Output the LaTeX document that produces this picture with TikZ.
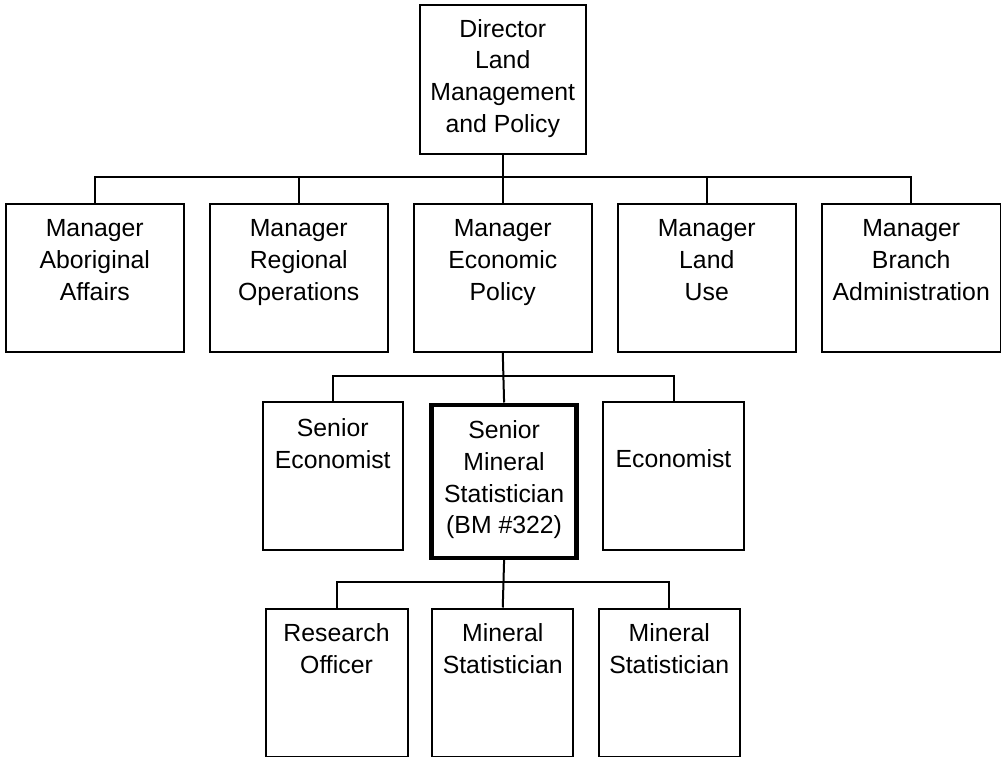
\documentclass[tikz,border=0pt]{standalone}
\usepackage{fontspec}
\setmainfont{Liberation Sans}
\tikzset{
  box/.style={draw, line width=2pt, inner sep=0pt, anchor=north west},
  bossbox/.style={draw, line width=4.7pt, inner sep=0pt, anchor=north west},
  link/.style={line width=2pt},
  lbl/.style={font=\fontsize{24.8}{31.7}\selectfont, align=center, inner sep=0pt, anchor=north},
}
\begin{document}
\begin{tikzpicture}[x=1pt,y=-1pt]
\useasboundingbox (0,0) rectangle (1001,757);
% top
\node[box, minimum width=166pt, minimum height=148pt] (dir) at (418.75,4.5) {};
\node[lbl] (tdir) at (dir.north |- 0,19) {Director\\Land\\Management\\and Policy};
% row 2
\node[box, minimum width=178.5pt, minimum height=148pt] (m1) at (4.5,202.5) {};
\node[box, minimum width=178.5pt, minimum height=148pt] (m2) at (208.5,202.5) {};
\node[box, minimum width=178.5pt, minimum height=148pt] (m3) at (412.5,202.5) {};
\node[box, minimum width=178.5pt, minimum height=148pt] (m4) at (616.5,202.5) {};
\node[box, minimum width=178.5pt, minimum height=148pt] (m5) at (821,202.5) {};
\node[lbl] (tm1) at (m1.north |- 0,219.7) {Manager\\Aboriginal\\Affairs};
\node[lbl] (tm2) at (m2.north |- 0,219.7) {Manager\\Regional\\Operations};
\node[lbl] (tm3) at (m3.north |- 0,219.7) {Manager\\Economic\\Policy};
\node[lbl] (tm4) at (m4.north |- 0,219.7) {Manager\\Land\\Use};
\node[lbl] (tm5) at (m5.north |- 0,219.7) {Manager\\Branch\\Administration};
% row 3
\node[box, minimum width=140.5pt, minimum height=148.5pt] (se) at (261.5,400.5) {};
\node[bossbox, minimum width=145pt, minimum height=153pt] (sms) at (429.25,402.5) {};
\node[box, minimum width=141pt, minimum height=148.5pt] (ec) at (602,400.5) {};
\node[lbl] (tse) at (se.north |- 0,418.8) {Senior\\Economist};
\node[lbl] (tsms) at (sms.north |- 0,420.6) {Senior\\Mineral\\Statistician\\(BM \#322)};
\node[lbl] (tec) at (ec.north |- 0,449.3) {Economist};
% row 4
\node[box, minimum width=142pt, minimum height=148.5pt] (ro) at (264.5,607.5) {};
\node[box, minimum width=141pt, minimum height=148.5pt] (ms1) at (431.25,607.5) {};
\node[box, minimum width=141.5pt, minimum height=148.5pt] (ms2) at (597.5,607.5) {};
\node[lbl] (tro) at (ro.north |- 0,623.5) {Research\\Officer};
\node[lbl] (tms1) at (ms1.north |- 0,623.5) {Mineral\\Statistician};
\node[lbl] (tms2) at (ms2.north |- 0,623.5) {Mineral\\Statistician};
% buses
\coordinate (bus1) at (0,177);
\coordinate (bus2) at (0,375.5);
\coordinate (bus3) at (0,582);
\draw[link] (dir.south) -- (dir.south |- bus1);
\draw[link] (m1.north) -- (m1.north |- bus1) -- (m5.north |- bus1) -- (m5.north);
\draw[link] (m2.north) -- (m2.north |- bus1);
\draw[link] (m3.north) -- (m3.north |- bus1);
\draw[link] (m4.north) -- (m4.north |- bus1);
\draw[link] (m3.south) -- (sms.north);
\draw[link] (se.north) -- (se.north |- bus2) -- (ec.north |- bus2) -- (ec.north);
\draw[link] (sms.south) -- (ms1.north);
\draw[link] (ro.north) -- (ro.north |- bus3) -- (ms2.north |- bus3) -- (ms2.north);
\end{tikzpicture}
\end{document}
